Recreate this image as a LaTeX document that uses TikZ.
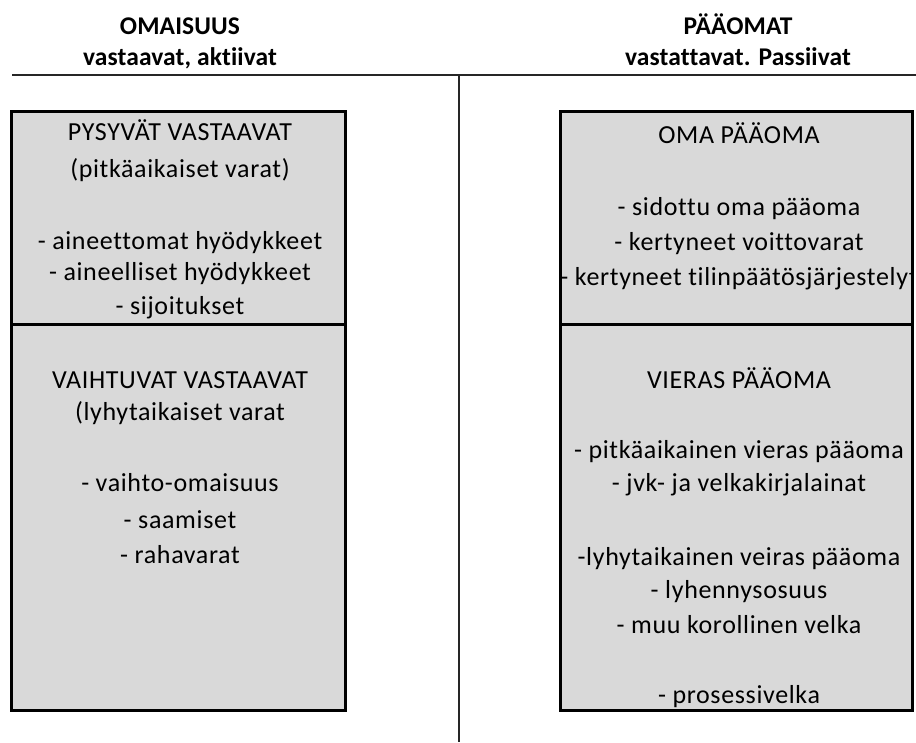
\documentclass[tikz,border=0pt]{standalone}
\usepackage{fontspec}
\setmainfont{Carlito}[Ligatures={NoCommon}, LetterSpace=2.5, BoldFeatures={LetterSpace=0.5}]
\definecolor{boxgray}{HTML}{D9D9D9}
\tikzset{
  boxcell/.style={rectangle, fill=boxgray, draw=black, line width=3pt, inner sep=0pt},
  txt/.style={anchor=base, inner sep=0pt, font=\fontsize{26}{30}\selectfont},
  head/.style={anchor=base, inner sep=0pt, font=\fontsize{25.5}{30}\selectfont\bfseries},
  rule/.style={draw=black!85, line width=2pt}
}
\begin{document}
\begin{tikzpicture}[x=1pt,y=-1pt]
\useasboundingbox (0,0) rectangle (916,742);
\fill[white] (0,0) rectangle (916,742);

% header rules
\coordinate (hl) at (12,75);
\coordinate (hr) at (916,75);
\coordinate (vt) at (459,75);
\coordinate (vb) at (459,742);
\draw[rule] (hl) -- (hr);
\draw[rule] (vt) -- (vb);

% headers
\node[head] (h1) at (180,34) {OMAISUUS};
\node[head] (h2) at (180,65.5) {vastaavat, aktiivat};
\node[head] (h3) at (738,34) {PÄÄOMAT};
\node[head] (h4) at (738,65.5) {vastattavat. Passiivat};

% boxes
\node[boxcell, minimum width=334pt, minimum height=212.5pt] (lt) at (178.5,217.75) {};
\node[boxcell, minimum width=334pt, minimum height=386.5pt] (lb) at (178.5,517.25) {};
\node[boxcell, minimum width=352pt, minimum height=212.5pt] (rt) at (736.5,217.75) {};
\node[boxcell, minimum width=352pt, minimum height=386.5pt] (rb) at (736.5,517.25) {};

% left top
\node[txt] (a1) at (180,140) {PYSYVÄT VASTAAVAT};
\node[txt] (a2) at (180,177) {(pitkäaikaiset varat)};
\node[txt] (a3) at (180,249) {- aineettomat hyödykkeet};
\node[txt] (a4) at (180,280) {- aineelliset hyödykkeet};
\node[txt] (a5) at (180,314) {- sijoitukset};

% left bottom
\node[txt] (b1) at (180,388) {VAIHTUVAT VASTAAVAT};
\node[txt] (b2) at (180,420) {(lyhytaikaiset varat};
\node[txt] (b3) at (180,491) {- vaihto-omaisuus};
\node[txt] (b4) at (180,528) {- saamiset};
\node[txt] (b5) at (180,563) {- rahavarat};

% right top (clipped to cell)
\begin{scope}
\clip ([xshift=1.5pt,yshift=-1.5pt]rt.north west) rectangle ([xshift=-1.5pt,yshift=1.5pt]rt.south east);
\node[txt] (c1) at (739,143) {OMA PÄÄOMA};
\node[txt] (c2) at (739,215) {- sidottu oma pääoma};
\node[txt] (c3) at (739,250) {- kertyneet voittovarat};
\node[txt] (c4) at (739,285) {- kertyneet tilinpäätösjärjestelyt};
\end{scope}

% right bottom
\node[txt] (d1) at (739,388) {VIERAS PÄÄOMA};
\node[txt] (d2) at (739,458) {- pitkäaikainen vieras pääoma};
\node[txt] (d3) at (739,491) {- jvk- ja velkakirjalainat};
\node[txt] (d4) at (739,565) {-lyhytaikainen veiras pääoma};
\node[txt] (d5) at (739,598) {- lyhennysosuus};
\node[txt] (d6) at (739,633) {- muu korollinen velka};
\node[txt] (d7) at (739,703) {- prosessivelka};
\end{tikzpicture}
\end{document}
